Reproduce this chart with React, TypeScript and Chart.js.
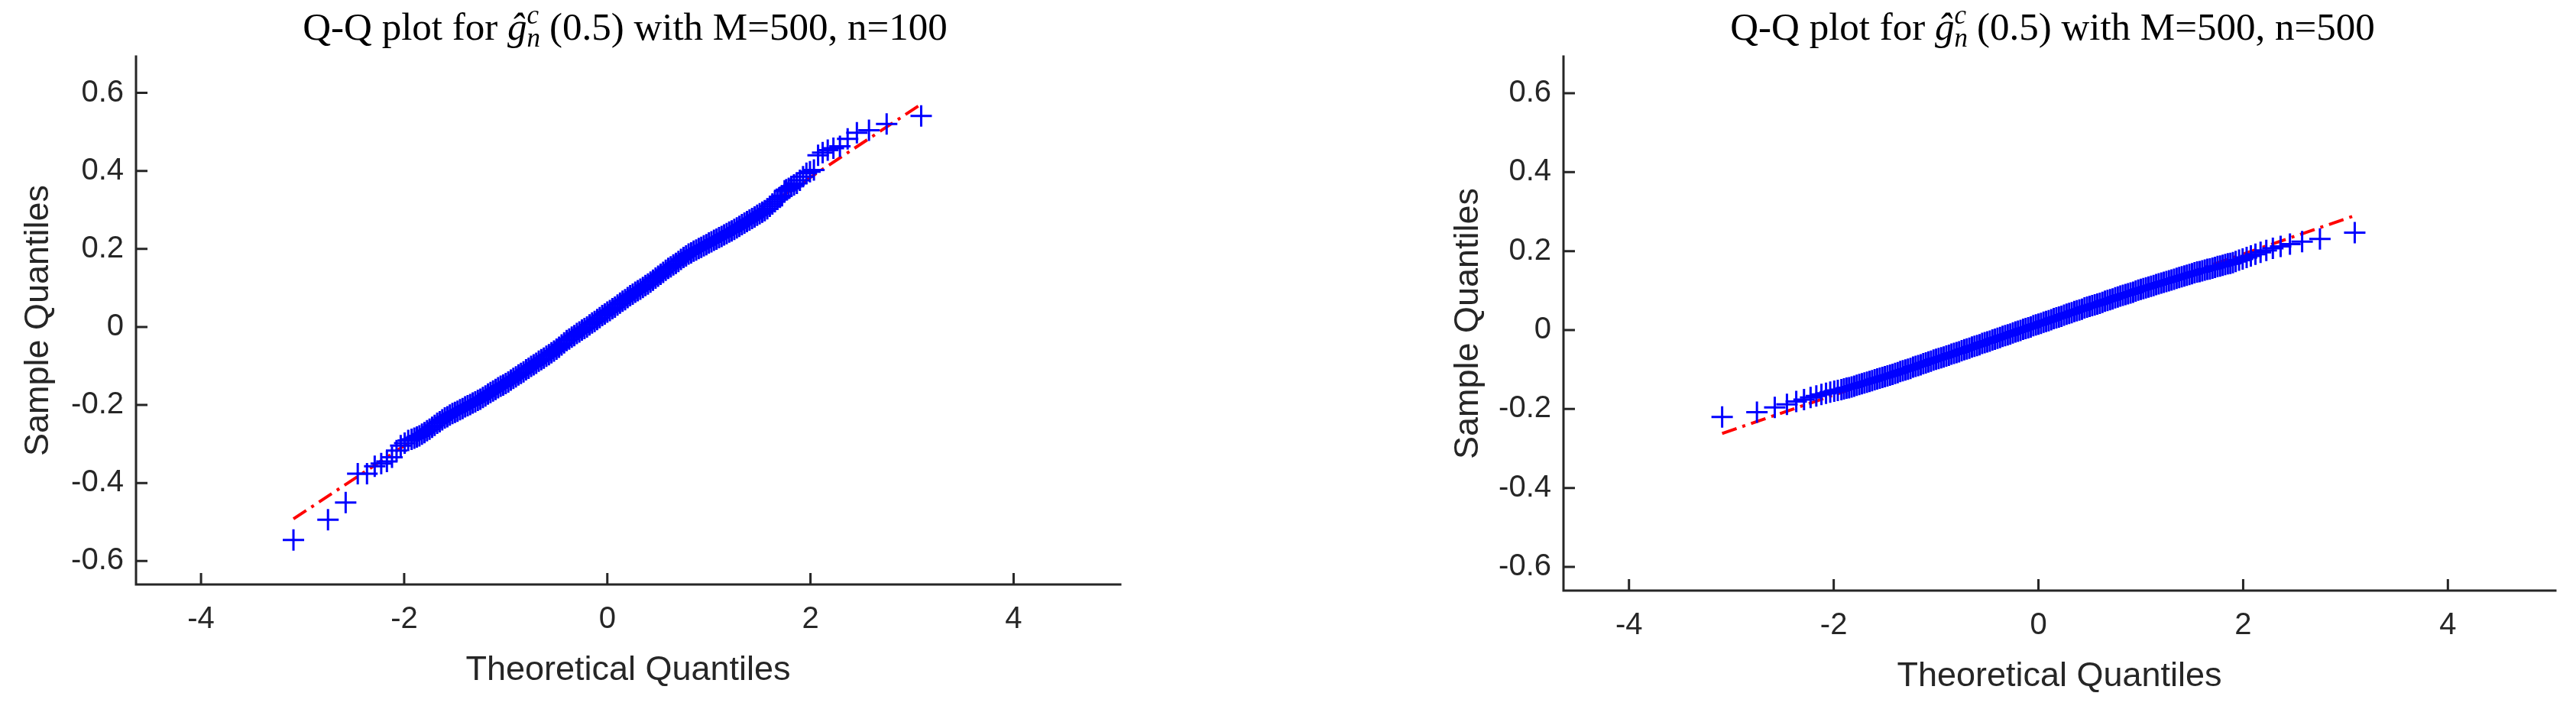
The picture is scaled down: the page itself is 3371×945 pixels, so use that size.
import React, { useEffect, useRef } from 'react';
import { Chart, registerables } from 'chart.js';

Chart.register(...registerables);

// ---------- axis ticks ----------
const xTickValues = [-4, -2, 0, 2, 4];
const xTickLabels = ['-4', '-2', '0', '2', '4'];
const yTickValues = [-0.6, -0.4, -0.2, 0, 0.2, 0.4, 0.6];
const yTickLabels = ['-0.6', '-0.4', '-0.2', '0', '0.2', '0.4', '0.6'];
const xLimits = [-4.64, 5.05];
const yLimits = [-0.66, 0.693];

// ---------- n = 100 panel (theoretical quantile, sample quantile) ----------
const qqX_n100 = [
  -3.09, -2.75, -2.576, -2.457, -2.366, -2.29, -2.226, -2.17, -2.12, -2.075, -2.034, -1.995, -1.96, -1.927,
  -1.9, -1.875, -1.85, -1.825, -1.8, -1.775, -1.75, -1.725, -1.7, -1.675, -1.65, -1.625, -1.6, -1.575,
  -1.55, -1.525, -1.5, -1.475, -1.45, -1.425, -1.4, -1.375, -1.35, -1.325, -1.3, -1.275, -1.25, -1.225,
  -1.2, -1.175, -1.15, -1.125, -1.1, -1.075, -1.05, -1.025, -1.0, -0.975, -0.95, -0.925, -0.9, -0.875,
  -0.85, -0.825, -0.8, -0.775, -0.75, -0.725, -0.7, -0.675, -0.65, -0.625, -0.6, -0.575, -0.55, -0.525,
  -0.5, -0.475, -0.45, -0.425, -0.4, -0.375, -0.35, -0.325, -0.3, -0.275, -0.25, -0.225, -0.2, -0.175,
  -0.15, -0.125, -0.1, -0.075, -0.05, -0.025, 0.0, 0.025, 0.05, 0.075, 0.1, 0.125, 0.15, 0.175, 0.2,
  0.225, 0.25, 0.275, 0.3, 0.325, 0.35, 0.375, 0.4, 0.425, 0.45, 0.475, 0.5, 0.525, 0.55, 0.575, 0.6,
  0.625, 0.65, 0.675, 0.7, 0.725, 0.75, 0.775, 0.8, 0.825, 0.85, 0.875, 0.9, 0.925, 0.95, 0.975, 1.0,
  1.025, 1.05, 1.075, 1.1, 1.125, 1.15, 1.175, 1.2, 1.225, 1.25, 1.275, 1.3, 1.325, 1.35, 1.375, 1.4,
  1.425, 1.45, 1.475, 1.5, 1.525, 1.55, 1.575, 1.6, 1.625, 1.65, 1.675, 1.7, 1.72,
  1.745, 1.762, 1.786, 1.811, 1.838, 1.866, 1.896, 1.927, 1.96, 1.995, 2.034, 2.075, 2.12, 2.17, 2.226,
  2.29, 2.366, 2.457, 2.576, 2.75, 3.09,
];
const qqY_n100 = [
  -0.546, -0.494, -0.45, -0.376, -0.376, -0.357, -0.35, -0.345, -0.334, -0.317, -0.304, -0.298, -0.291, -0.288,
  -0.285, -0.282, -0.279, -0.275, -0.271, -0.266, -0.262, -0.257, -0.252, -0.247, -0.243, -0.238, -0.233,
  -0.23, -0.226, -0.222, -0.219, -0.216, -0.212, -0.209, -0.205, -0.202, -0.199, -0.195, -0.192, -0.188,
  -0.185, -0.181, -0.177, -0.172, -0.168, -0.164, -0.16, -0.156, -0.152, -0.149, -0.145, -0.141, -0.136,
  -0.132, -0.128, -0.123, -0.119, -0.115, -0.11, -0.106, -0.101, -0.097, -0.093, -0.088, -0.084, -0.08,
  -0.075, -0.071, -0.066, -0.062, -0.057, -0.052, -0.046, -0.041, -0.035, -0.031, -0.026, -0.022, -0.017,
  -0.013, -0.008, -0.004, 0.0, 0.005, 0.01, 0.014, 0.019, 0.024, 0.029, 0.033, 0.038, 0.042, 0.047, 0.051,
  0.056, 0.061, 0.066, 0.07, 0.075, 0.08, 0.084, 0.089, 0.093, 0.097, 0.101, 0.106, 0.11, 0.115, 0.12,
  0.125, 0.13, 0.135, 0.14, 0.145, 0.15, 0.154, 0.159, 0.163, 0.168, 0.173, 0.178, 0.182, 0.187, 0.19,
  0.194, 0.197, 0.201, 0.204, 0.208, 0.211, 0.215, 0.218, 0.222, 0.225, 0.229, 0.232, 0.236, 0.239, 0.243,
  0.246, 0.25, 0.254, 0.258, 0.262, 0.266, 0.27, 0.274, 0.278, 0.282, 0.286, 0.29, 0.294, 0.298, 0.303,
  0.309, 0.315, 0.321, 0.327, 0.332, 0.336,
  0.349, 0.352, 0.355, 0.36, 0.364, 0.368, 0.376, 0.385, 0.394, 0.398, 0.402, 0.44, 0.447, 0.453, 0.458,
  0.463, 0.482, 0.4975, 0.504, 0.52, 0.541,
];
const fitX_n100 = [-3.09, 3.09];
const fitY_n100 = [-0.492, 0.571];

// ---------- n = 500 panel ----------
const qqX_n500 = [
  -3.09, -2.75, -2.576, -2.457, -2.366, -2.29, -2.226, -2.17, -2.12, -2.075, -2.034, -1.995, -1.96,
  -1.925, -1.9, -1.875, -1.85, -1.825, -1.8, -1.775, -1.75, -1.725, -1.7, -1.675, -1.65, -1.625, -1.6,
  -1.575, -1.55, -1.525, -1.5, -1.475, -1.45, -1.425, -1.4, -1.375, -1.35, -1.325, -1.3, -1.275, -1.25,
  -1.225, -1.2, -1.175, -1.15, -1.125, -1.1, -1.075, -1.05, -1.025, -1.0, -0.975, -0.95, -0.925, -0.9,
  -0.875, -0.85, -0.825, -0.8, -0.775, -0.75, -0.725, -0.7, -0.675, -0.65, -0.625, -0.6, -0.575, -0.55,
  -0.525, -0.5, -0.475, -0.45, -0.425, -0.4, -0.375, -0.35, -0.325, -0.3, -0.275, -0.25, -0.225, -0.2,
  -0.175, -0.15, -0.125, -0.1, -0.075, -0.05, -0.025, 0.0, 0.025, 0.05, 0.075, 0.1, 0.125, 0.15, 0.175,
  0.2, 0.225, 0.25, 0.275, 0.3, 0.325, 0.35, 0.375, 0.4, 0.425, 0.45, 0.475, 0.5, 0.525, 0.55, 0.575,
  0.6, 0.625, 0.65, 0.675, 0.7, 0.725, 0.75, 0.775, 0.8, 0.825, 0.85, 0.875, 0.9, 0.925, 0.95, 0.975,
  1.0, 1.025, 1.05, 1.075, 1.1, 1.125, 1.15, 1.175, 1.2, 1.225, 1.25, 1.275, 1.3, 1.325, 1.35, 1.375,
  1.4, 1.425, 1.45, 1.475, 1.5, 1.525, 1.55, 1.575, 1.6, 1.625, 1.65, 1.675, 1.7, 1.725, 1.75, 1.775,
  1.8, 1.825, 1.85, 1.875, 1.9,
  1.927, 1.96, 1.995, 2.034, 2.075, 2.12, 2.17, 2.226, 2.29, 2.366, 2.457, 2.576, 2.75, 3.09,
];
const qqY_n500 = [
  -0.22, -0.208, -0.196, -0.188, -0.181, -0.176, -0.171, -0.167, -0.163, -0.16, -0.157, -0.155, -0.153,
  -0.151, -0.149, -0.147, -0.146, -0.144, -0.142, -0.14, -0.138, -0.136, -0.134, -0.132, -0.13, -0.128,
  -0.126, -0.124, -0.122, -0.12, -0.118, -0.116, -0.114, -0.112, -0.11, -0.108, -0.105, -0.103, -0.101,
  -0.099, -0.097, -0.094, -0.092, -0.09, -0.088, -0.085, -0.083, -0.081, -0.079, -0.076, -0.074, -0.072,
  -0.07, -0.068, -0.066, -0.064, -0.061, -0.059, -0.057, -0.055, -0.052, -0.05, -0.048, -0.046, -0.043,
  -0.041, -0.039, -0.037, -0.034, -0.032, -0.03, -0.028, -0.025, -0.023, -0.021, -0.019, -0.016, -0.014,
  -0.012, -0.01, -0.007, -0.005, -0.003, -0.001, 0.002, 0.004, 0.006, 0.008, 0.011, 0.013, 0.015, 0.017,
  0.02, 0.022, 0.024, 0.026, 0.029, 0.031, 0.033, 0.035, 0.038, 0.04, 0.042, 0.044, 0.047, 0.049, 0.051,
  0.053, 0.056, 0.058, 0.06, 0.062, 0.064, 0.066, 0.068, 0.07, 0.073, 0.075, 0.077, 0.079, 0.082, 0.084,
  0.086, 0.088, 0.09, 0.092, 0.094, 0.096, 0.099, 0.101, 0.103, 0.105, 0.107, 0.109, 0.111, 0.113, 0.115,
  0.117, 0.119, 0.121, 0.123, 0.125, 0.127, 0.129, 0.131, 0.133, 0.135, 0.137, 0.139, 0.141, 0.143, 0.145,
  0.147, 0.148, 0.15, 0.152, 0.154, 0.155, 0.157, 0.159, 0.161, 0.162, 0.164, 0.166, 0.168, 0.169, 0.171,
  0.174, 0.177, 0.18, 0.184, 0.188, 0.192, 0.197, 0.202, 0.207, 0.212, 0.218, 0.224, 0.231, 0.247,
];
const fitX_n500 = [-3.09, 3.09];
const fitY_n500 = [-0.262, 0.29];

// ---------- text ----------
const titlePrefix = 'Q-Q plot for ';
const titleSymbol = '\u011D';
const titleSup = 'c';
const titleSub = 'n';
const titleMiddle = '(0.5) with M=500, ';
const xAxisTitle = 'Theoretical Quantiles';
const yAxisTitle = 'Sample Quantiles';

const AXIS_COLOR = '#262626';
const SANS = '"Liberation Sans", Arial, Helvetica, sans-serif';
const SERIF = '"Liberation Serif", "Times New Roman", serif';
const PAGE_H = 945;

type PanelCfg = {
  suffix: string;
  canvasLeft: number;
  canvasWidth: number;
  area: { left: number; right: number; top: number; bottom: number };
  yTitlePad: number;
  xTitlePad: number;
  titleCenter: number;
  titleBaseline: number;
  qx: number[];
  qy: number[];
  fx: number[];
  fy: number[];
};

const panels: PanelCfg[] = [
  {
    suffix: 'n=100',
    canvasLeft: 0,
    canvasWidth: 1685,
    area: { left: 178, right: 1466, top: 74, bottom: 765 },
    yTitlePad: 24,
    xTitlePad: 40,
    titleCenter: 818,
    titleBaseline: 52,
    qx: qqX_n100,
    qy: qqY_n100,
    fx: fitX_n100,
    fy: fitY_n100,
  },
  {
    suffix: 'n=500',
    canvasLeft: 1685,
    canvasWidth: 1686,
    area: { left: 361, right: 1659, top: 74, bottom: 773 },
    yTitlePad: 210,
    xTitlePad: 32,
    titleCenter: 1001,
    titleBaseline: 52,
    qx: qqX_n500,
    qy: qqY_n500,
    fx: fitX_n500,
    fy: fitY_n500,
  },
];

const matlabAxes = {
  id: 'matlabAxes',
  afterDraw(chart: any, _args: any, opts: any) {
    const ctx = chart.ctx as CanvasRenderingContext2D;
    const { left, right, top, bottom } = chart.chartArea;
    const xs = chart.scales.x;
    const ys = chart.scales.y;
    ctx.save();
    ctx.strokeStyle = AXIS_COLOR;
    ctx.lineWidth = 3;
    ctx.lineCap = 'square';
    ctx.beginPath();
    ctx.moveTo(left, top);
    ctx.lineTo(left, bottom);
    ctx.lineTo(right, bottom);
    ctx.stroke();
    ctx.lineCap = 'butt';
    ctx.beginPath();
    for (const v of yTickValues) {
      const py = ys.getPixelForValue(v);
      ctx.moveTo(left, py);
      ctx.lineTo(left + 15, py);
    }
    for (const v of xTickValues) {
      const px = xs.getPixelForValue(v);
      ctx.moveTo(px, bottom);
      ctx.lineTo(px, bottom - 15);
    }
    ctx.stroke();

    // title with hat, sub- and superscript
    const mainFont = `51px ${SERIF}`;
    const italFont = `italic 51px ${SERIF}`;
    const scriptFont = `italic 35px ${SERIF}`;
    ctx.fillStyle = '#000000';
    ctx.textBaseline = 'alphabetic';
    ctx.textAlign = 'left';
    ctx.font = mainFont;
    const w1 = ctx.measureText(titlePrefix).width;
    const rest = titleMiddle + opts.suffix;
    const w3 = ctx.measureText(rest).width;
    ctx.font = italFont;
    const wg = ctx.measureText(titleSymbol).width;
    ctx.font = scriptFont;
    const ws = Math.max(ctx.measureText(titleSup).width, ctx.measureText(titleSub).width);
    const gap = 12;
    const total = w1 + wg + ws + gap + w3;
    let x = opts.center - total / 2;
    const b = opts.baseline;
    ctx.font = mainFont;
    ctx.fillText(titlePrefix, x, b);
    x += w1;
    ctx.font = italFont;
    ctx.fillText(titleSymbol, x, b);
    x += wg;
    ctx.font = scriptFont;
    ctx.fillText(titleSup, x, b - 21);
    ctx.fillText(titleSub, x, b + 9);
    x += ws + gap;
    ctx.font = mainFont;
    ctx.fillText(rest, x, b);
    ctx.restore();
  },
};

function QQPanel({ cfg }: { cfg: PanelCfg }) {
  const ref = useRef<HTMLCanvasElement>(null);
  useEffect(() => {
    const canvas = ref.current;
    if (!canvas) return;
    const a = cfg.area;
    const chart = new Chart(canvas, {
      type: 'scatter',
      data: {
        datasets: [
          {
            label: 'samples',
            data: cfg.qx.map((x, i) => ({ x, y: cfg.qy[i] })),
            showLine: false,
            pointStyle: 'cross',
            pointRadius: 14,
            pointBorderWidth: 3,
            borderWidth: 3,
            borderColor: '#0000FF',
            backgroundColor: '#0000FF',
          } as any,
          {
            label: 'fit',
            data: cfg.fx.map((x, i) => ({ x, y: cfg.fy[i] })),
            showLine: true,
            borderColor: '#FF0000',
            borderWidth: 4,
            borderDash: [20, 8, 4, 8],
            pointRadius: 0,
            fill: false,
          } as any,
        ],
      },
      options: {
        responsive: false,
        animation: false,
        devicePixelRatio: 1,
        events: [],
        layout: {
          padding: { left: 0, top: a.top, right: cfg.canvasWidth - a.right, bottom: 0 },
        },
        plugins: {
          legend: { display: false },
          tooltip: { enabled: false },
          title: { display: false },
          matlabAxes: { suffix: cfg.suffix, center: cfg.titleCenter, baseline: cfg.titleBaseline },
        } as any,
        scales: {
          x: {
            type: 'linear',
            position: 'bottom',
            min: xLimits[0],
            max: xLimits[1],
            afterBuildTicks: (s: any) => {
              s.ticks = xTickValues.map((v) => ({ value: v }));
            },
            afterFit: (s: any) => {
              s.height = PAGE_H - a.bottom;
            },
            grid: { display: false, drawTicks: false },
            border: { display: false },
            ticks: {
              padding: 22,
              color: AXIS_COLOR,
              maxRotation: 0,
              font: { family: SANS, size: 40 },
              callback: (v: any) => {
                const i = xTickValues.indexOf(Number(v));
                return i >= 0 ? xTickLabels[i] : '';
              },
            },
            title: {
              display: true,
              text: xAxisTitle,
              color: AXIS_COLOR,
              font: { family: SANS, size: 45 },
              padding: { top: 0, bottom: cfg.xTitlePad },
            },
          },
          y: {
            type: 'linear',
            position: 'left',
            min: yLimits[0],
            max: yLimits[1],
            afterBuildTicks: (s: any) => {
              s.ticks = yTickValues.map((v) => ({ value: v }));
            },
            afterFit: (s: any) => {
              s.width = a.left;
            },
            grid: { display: false, drawTicks: false },
            border: { display: false },
            ticks: {
              padding: 16,
              color: AXIS_COLOR,
              font: { family: SANS, size: 40 },
              callback: (v: any) => {
                const i = yTickValues.findIndex((t) => Math.abs(t - Number(v)) < 1e-9);
                return i >= 0 ? yTickLabels[i] : '';
              },
            },
            title: {
              display: true,
              text: yAxisTitle,
              color: AXIS_COLOR,
              font: { family: SANS, size: 45 },
              padding: { top: cfg.yTitlePad, bottom: 0 },
            },
          },
        },
      },
      plugins: [matlabAxes as any],
    });
    return () => chart.destroy();
  }, [cfg]);
  return (
    <canvas
      ref={ref}
      width={cfg.canvasWidth}
      height={PAGE_H}
      style={{ position: 'absolute', left: cfg.canvasLeft, top: 0, width: cfg.canvasWidth, height: PAGE_H }}
    />
  );
}

export default function App() {
  return (
    <>
      <style>{'html,body{margin:0;padding:0;background:#ffffff;overflow:hidden;}'}</style>
      <div style={{ position: 'relative', width: 3371, height: PAGE_H, background: '#ffffff' }}>
        {panels.map((p) => (
          <QQPanel key={p.suffix} cfg={p} />
        ))}
      </div>
    </>
  );
}
